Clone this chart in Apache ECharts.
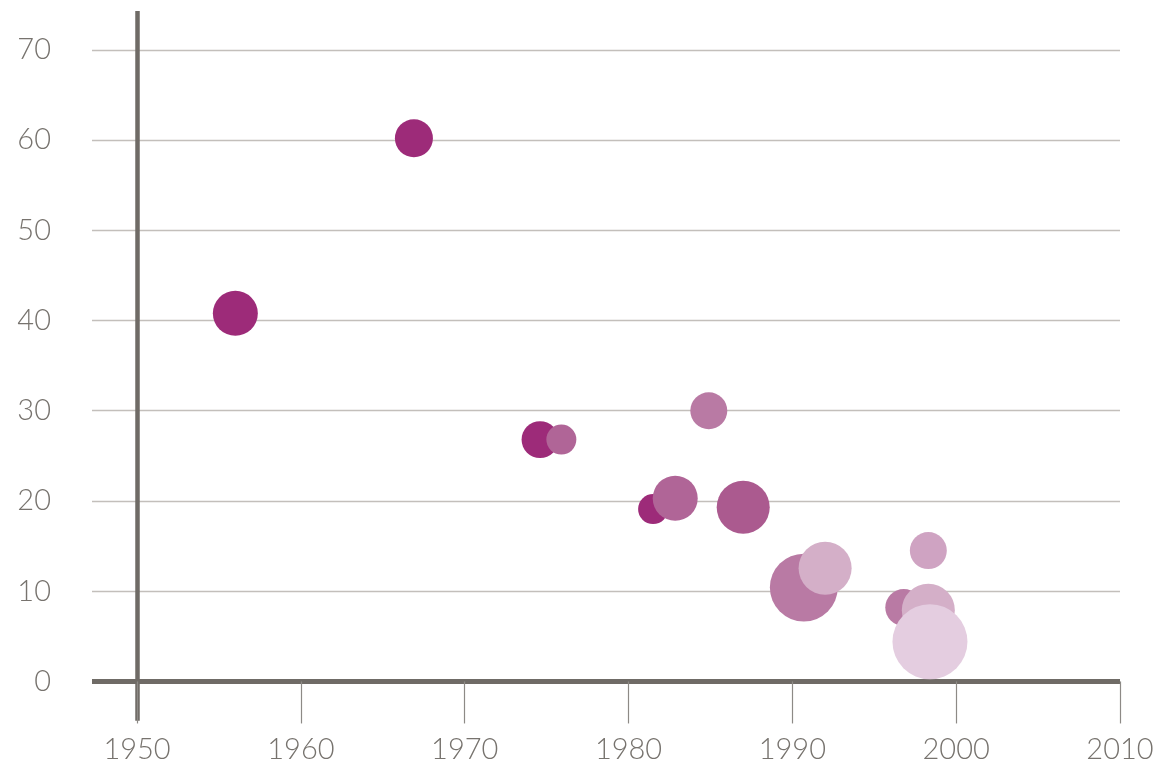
<!DOCTYPE html>
<html>
<head>
<meta charset="utf-8">
<script src="https://cdn.jsdelivr.net/npm/echarts@6/dist/echarts.min.js"></script>
<style>
html,body{margin:0;padding:0;background:#fff;}
#chart{width:1155px;height:762px;}
</style>
</head>
<body>
<div id="chart"></div>
<script>
// ---- data ----
var years   = [1956.0, 1966.9, 1974.6, 1975.9, 1981.5, 1982.85, 1984.9, 1987.0, 1990.7, 1992.0, 1996.8, 1998.3, 1998.3, 1998.4];
var values  = [40.8,   60.2,   26.8,   26.8,   19.1,   20.3,    30.0,   19.3,   10.4,   12.55,  8.2,    14.5,   7.9,    4.4];
var weights = [36,     25.7,   24.3,   16,     16,     36,      24.3,   50,     82,     50,     24.3,   24.3,   50,     100];
var groups  = [0,      0,      0,      1,      0,      1,       2,      3,      2,      5,      2,      4,      5,      6];
var palette = ['#9d2b79', '#b06597', '#b97aa4', '#ab5a8f', '#cfa3c2', '#d4afc8', '#e4cde0'];
var xTicks  = [1950, 1960, 1970, 1980, 1990, 2000, 2010];
var yTicks  = [0, 10, 20, 30, 40, 50, 60, 70];

var baseYear = xTicks[0];
var xMin = 1947.25 - baseYear, xMax = 2010 - baseYear;
var yMin = -4.35, yMax = 74.3;

var points = years.map(function (y, i) {
  return {
    value: [y - baseYear, values[i], weights[i]],
    itemStyle: { color: palette[groups[i]] }
  };
});

var axisColor = '#6f6b66';
var labelColor = '#77736e';
var labelFont = { fontFamily: 'Lato, "Open Sans", sans-serif', fontWeight: 300, fontSize: 29, color: labelColor };

var chart = echarts.init(document.getElementById('chart'), null, { renderer: 'canvas' });
chart.setOption({
  animation: false,
  backgroundColor: '#ffffff',
  grid: { left: 92, right: 35, top: 11, bottom: 41.3, containLabel: false, outerBoundsMode: 'none' },
  xAxis: {
    type: 'value',
    min: xMin, max: xMax,
    axisLine: { show: true, onZero: true, lineStyle: { color: axisColor, width: 5, cap: 'butt' } },
    axisTick: {
      show: true, inside: false, length: 42,
      customValues: xTicks.map(function (t) { return t - baseYear; }),
      lineStyle: { color: '#8d8a86', width: 1.2 }
    },
    axisLabel: Object.assign({
      customValues: xTicks.map(function (t) { return t - baseYear; }),
      margin: 14, verticalAlign: 'top',
      formatter: function (v) { return String(Math.round(v + baseYear)); }
    }, labelFont),
    splitLine: { show: false }
  },
  yAxis: {
    type: 'value',
    min: yMin, max: yMax,
    axisLine: { show: true, onZero: true, lineStyle: { color: axisColor, width: 4.5, cap: 'butt' } },
    axisTick: { show: false, customValues: yTicks },
    axisLabel: Object.assign({
      customValues: yTicks,
      margin: 41
    }, labelFont),
    splitLine: { show: true, lineStyle: { color: '#c3bfbb', width: 1.3 } }
  },
  series: [{
    type: 'scatter',
    data: points,
    symbol: 'circle',
    symbolSize: function (d) { return 7.5 * Math.sqrt(d[2]); },
    itemStyle: { opacity: 1 },
    z: 1
  }]
});
</script>
</body>
</html>
